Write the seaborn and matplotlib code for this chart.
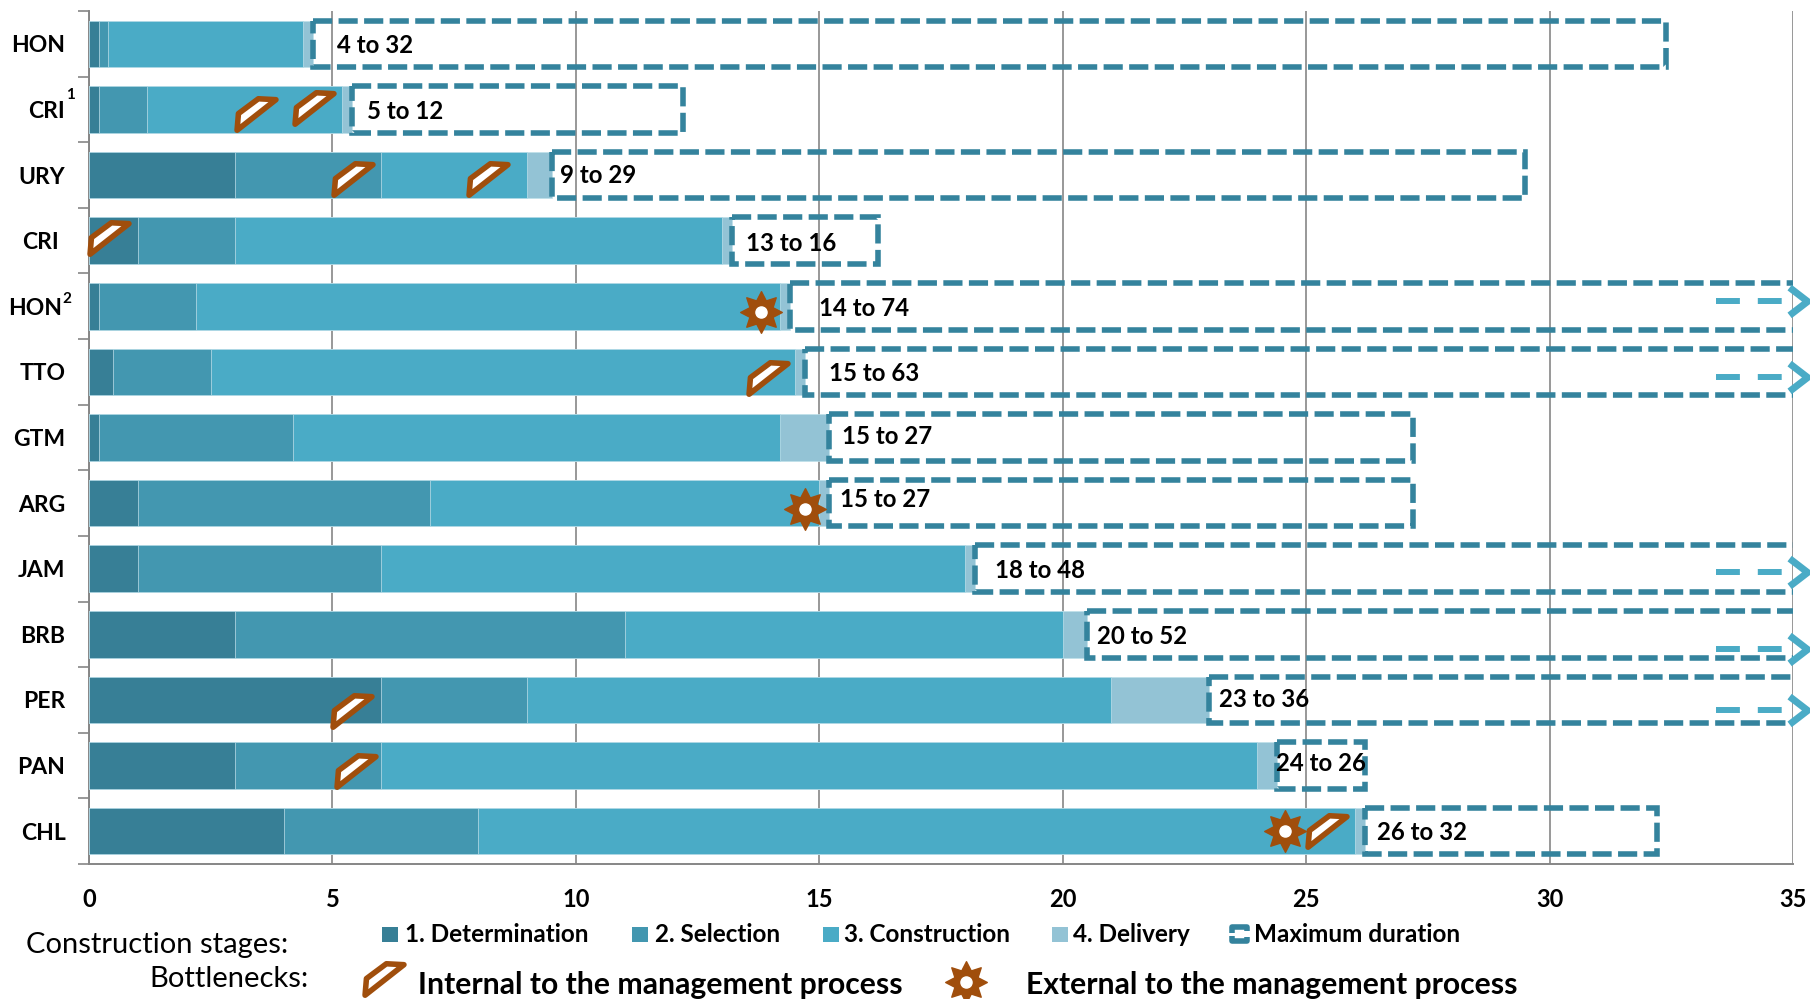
import numpy as np
import pandas as pd
import seaborn as sns
import matplotlib
matplotlib.use('Agg')
import matplotlib.pyplot as plt
from matplotlib.path import Path
from matplotlib.patches import Rectangle
from matplotlib.lines import Line2D
from matplotlib.transforms import Affine2D

# Data
countries = ['HON', 'CRI ¹', 'URY', 'CRI', 'HON²', 'TTO', 'GTM', 'ARG', 'JAM', 'BRB', 'PER', 'PAN', 'CHL']
row_names = ['HON', 'CRI', 'URY', 'CRI', 'HON', 'TTO', 'GTM', 'ARG', 'JAM', 'BRB', 'PER', 'PAN', 'CHL']
determination = [0.2, 0.2, 3, 1, 0.2, 0.5, 0.2, 1, 1, 3, 6, 3, 4]
selection = [0.2, 1, 3, 2, 2, 2, 4, 6, 5, 8, 3, 3, 4]
construction = [4, 4, 3, 10, 12, 12, 10, 8, 12, 9, 12, 18, 18]
delivery = [0.2, 0.2, 0.5, 0.2, 0.2, 0.2, 1, 0.2, 0.2, 0.5, 2, 0.4, 0.2]
max_end = [32.4, 12.2, 29.5, 16.2, 74, 63, 27.2, 27.2, 48, 52, 36, 26.2, 32.2]
range_labels = ['4 to 32', '5 to 12', '9 to 29', '13 to 16', '14 to 74', '15 to 63', '15 to 27',
                '15 to 27', '18 to 48', '20 to 52', '23 to 36', '24 to 26', '26 to 32']
stage_names = ['1. Determination', '2. Selection', '3. Construction', '4. Delivery']
x_ticks = [0, 5, 10, 15, 20, 25, 30, 35]

# bottlenecks: row, position in months
internal_rows = [1, 1, 2, 2, 3, 5, 10, 11, 12]
internal_x = [3.43, 4.63, 5.42, 8.2, 0.41, 13.95, 5.4, 5.48, 25.43]
external_rows = [4, 7, 12]
external_x = [13.8, 14.7, 24.57]

# small hand offsets in px (label/marker placement in the original is irregular)
internal_dy = [5, -1, 4, 4, -3, 6, 11, 5, 0]
external_dy = [6, 6, 0]
label_x = [5.1, 5.71, 9.67, 13.5, 15.0, 15.2, 15.47, 15.43, 18.6, 20.7, 23.2, 24.38, 26.45]
label_dy = [0, 1, -1, 1, 1, 0, -2, -5, 0, 1, -2, -4, 0]
arrow_dy = [0, 0, 0, 0, -5, 5, 0, 0, 3, 15, 10, 0, 0]
ytick_dx = [0, -1, 0, -7, -3, 0, 0, 0, 0, 0, 0, 0, 0]

C_DET = '#377F96'
C_SEL = '#4397B0'
C_CON = '#4AABC6'
C_DEL = '#93C3D5'
C_BOX = '#34839D'
BROWN = '#A04E0C'
GRID = '#868686'
plt_w, plt_h = 1810, 999

sns.set_theme(style='white')
plt.rcParams['font.family'] = ['Lato', 'DejaVu Sans']

fig = plt.figure(figsize=(plt_w / 100, plt_h / 100), dpi=100)
ax = fig.add_axes([89 / plt_w, 1 - 864 / plt_h, (1793 - 89) / plt_w, (864 - 11) / plt_h])

df = pd.DataFrame({'country': countries, 'det': determination, 'sel': selection,
                   'con': construction, 'del': delivery, 'end': max_end})
df['c1'] = df['det']
df['c2'] = df['c1'] + df['sel']
df['c3'] = df['c2'] + df['con']
df['c4'] = df['c3'] + df['del']

# stacked look: draw the cumulative bars from longest to shortest
for col, color in [('c4', C_DEL), ('c3', C_CON), ('c2', C_SEL), ('c1', C_DET)]:
    sns.barplot(data=df, x=col, y='country', color=color, width=0.71, saturation=1,
                edgecolor='#BFE0EA', linewidth=0.5, ax=ax, zorder=3)

ax.set_xlim(0, 35)
ax.set_ylim(12.5, -0.5)
ax.set_xlabel('')
ax.set_ylabel('')

# maximum duration boxes
ax.barh(range(len(df)), df['end'] - df['c4'], left=df['c4'], height=0.71, fill=False,
        edgecolor=C_BOX, linewidth=4, linestyle=(0, (3.45, 1.15)), zorder=4)

# axes
ax.set_axisbelow(True)
ax.xaxis.grid(True, color=GRID, linewidth=1.2)
ax.yaxis.grid(False)
ax.set_xticks(x_ticks)
ax.set_xticklabels([str(v) for v in x_ticks], fontsize=17, fontweight='bold', color='black')
ax.set_yticks(np.arange(len(df)))
ax.set_yticklabels(row_names, fontsize=16.5, fontweight='bold', color='black')
ax.tick_params(axis='y', length=0, pad=17)
ax.tick_params(axis='x', length=9, width=1.2, color=GRID, pad=8)
for s in ['top', 'right']:
    ax.spines[s].set_visible(False)
for s in ['left', 'bottom']:
    ax.spines[s].set_color(GRID)
    ax.spines[s].set_linewidth(1.4)
# y ticks sit between the rows
ax.set_yticks(np.arange(-0.5, len(df)), minor=True)
ax.tick_params(axis='y', which='minor', length=8, width=1.2, color=GRID, left=True)

for lab, dx in zip(ax.get_yticklabels(), ytick_dx):
    if dx:
        lab.set_transform(lab.get_transform() + Affine2D().translate(dx, 0))

py = 853 / 13  # px per row


def row_y(row, dy):
    return row + dy / py


# footnote marks next to the row names
ax.annotate('1', xy=(0, 1), xytext=(-23, 14), xycoords=ax.get_yaxis_transform(), textcoords='offset pixels',
            fontsize=11, fontweight='bold', color='black', ha='left', va='center', annotation_clip=False)
ax.annotate('2', xy=(0, 4), xytext=(-27, 7), xycoords=ax.get_yaxis_transform(), textcoords='offset pixels',
            fontsize=11, fontweight='bold', color='black', ha='left', va='center', annotation_clip=False)

# range labels
for i, lab in enumerate(range_labels):
    ax.text(label_x[i], row_y(i, label_dy[i] + 1.5), lab, fontsize=17.3, fontweight='bold', color='black',
            va='center', ha='left', zorder=6)

# open ended boxes get a dashed arrow
chevron = Path([(-1, 1), (0.3, 0), (-1, -1)], [Path.MOVETO, Path.LINETO, Path.LINETO])
for i in range(len(df)):
    if max_end[i] > 35:
        y = row_y(i, arrow_dy[i])
        ax.plot([33.42, 34.77], [y, y], color=C_CON, lw=4.3, ls=(0, (4, 3)), zorder=5,
                solid_capstyle='butt', dash_capstyle='butt')
        ax.plot([35.2], [y], marker=chevron, ms=20, mfc='none', mec=C_CON, mew=5, clip_on=False, zorder=5)

# bottleneck markers
internal_path = Path([(-21, -17), (-19.5, 1), (2, 17), (21, 16), (-21, -17)],
                     [Path.MOVETO, Path.LINETO, Path.LINETO, Path.LINETO, Path.CLOSEPOLY])


def star_path(n=8, r1=1.0, r2=0.6):
    angles = np.linspace(0, 2 * np.pi, 2 * n, endpoint=False) + np.pi / 2
    radii = np.where(np.arange(2 * n) % 2 == 0, r1, r2)
    pts = np.c_[radii * np.cos(angles), radii * np.sin(angles)]
    pts = np.vstack([pts, pts[0]])
    codes = [Path.MOVETO] + [Path.LINETO] * (2 * n - 1) + [Path.CLOSEPOLY]
    return Path(pts, codes)


star = star_path()


def draw_internal(axis, x, y, **kw):
    axis.plot([x], [y], marker=internal_path, ms=28, mfc='white', mec=BROWN, mew=4, clip_on=False,
              zorder=7, ls='none', **kw)


def draw_external(axis, x, y, **kw):
    axis.plot([x], [y], marker=star, ms=30, mfc=BROWN, mec=BROWN, mew=1, clip_on=False, zorder=7, ls='none', **kw)
    axis.plot([x], [y], marker='o', ms=8, mfc='white', mec='white', clip_on=False, zorder=8, ls='none', **kw)


for r, x, dy in zip(internal_rows, internal_x, internal_dy):
    draw_internal(ax, x, row_y(r, dy))
for r, x, dy in zip(external_rows, external_x, external_dy):
    draw_external(ax, x, row_y(r, dy))


# legend, laid out by hand in figure pixels
def fx(x):
    return x / plt_w


def fy(y):
    return 1 - y / plt_h


swatch_x = [382, 632, 823, 1052]
text_x = [405, 655, 844, 1073]
for name, color, sx, tx in zip(stage_names, [C_DET, C_SEL, C_CON, C_DEL], swatch_x, text_x):
    fig.add_artist(Rectangle((fx(sx), fy(942)), 16 / plt_w, 15 / plt_h, transform=fig.transFigure,
                             facecolor=color, edgecolor='none'))
    fig.text(fx(tx), fy(935), name, fontsize=17.5, fontweight='bold', color='black', va='center')

# max duration icon: two brackets with a gap in the middle
for xs, ys in [([1232, 1232, 1247, 1247], [933, 927, 927, 931]),
               ([1232, 1232, 1247, 1247], [936, 941, 941, 937])]:
    fig.add_artist(Line2D([fx(v) for v in xs], [fy(v) for v in ys], transform=fig.transFigure,
                          color=C_BOX, linewidth=4, solid_joinstyle='round', solid_capstyle='butt'))
fig.text(fx(1254), fy(935), 'Maximum duration', fontsize=17.5, fontweight='bold', color='black', va='center')

fig.text(fx(26), fy(945), 'Construction stages:', fontsize=21, color='black', va='center')
fig.text(fx(309), fy(979), 'Bottlenecks:', fontsize=21, color='black', va='center', ha='right')

overlay = fig.add_axes([0, 0, 1, 1], facecolor='none')
overlay.set_axis_off()
overlay.set_xlim(0, plt_w)
overlay.set_ylim(plt_h, 0)
draw_internal(overlay, 384, 979)
draw_external(overlay, 966, 982)
fig.text(fx(418), fy(985), 'Internal to the management process', fontsize=21.7, fontweight='bold',
         color='black', va='center')
fig.text(fx(1026), fy(985), 'External to the management process', fontsize=21.7, fontweight='bold',
         color='black', va='center')

fig.savefig('out.png', dpi=100)
